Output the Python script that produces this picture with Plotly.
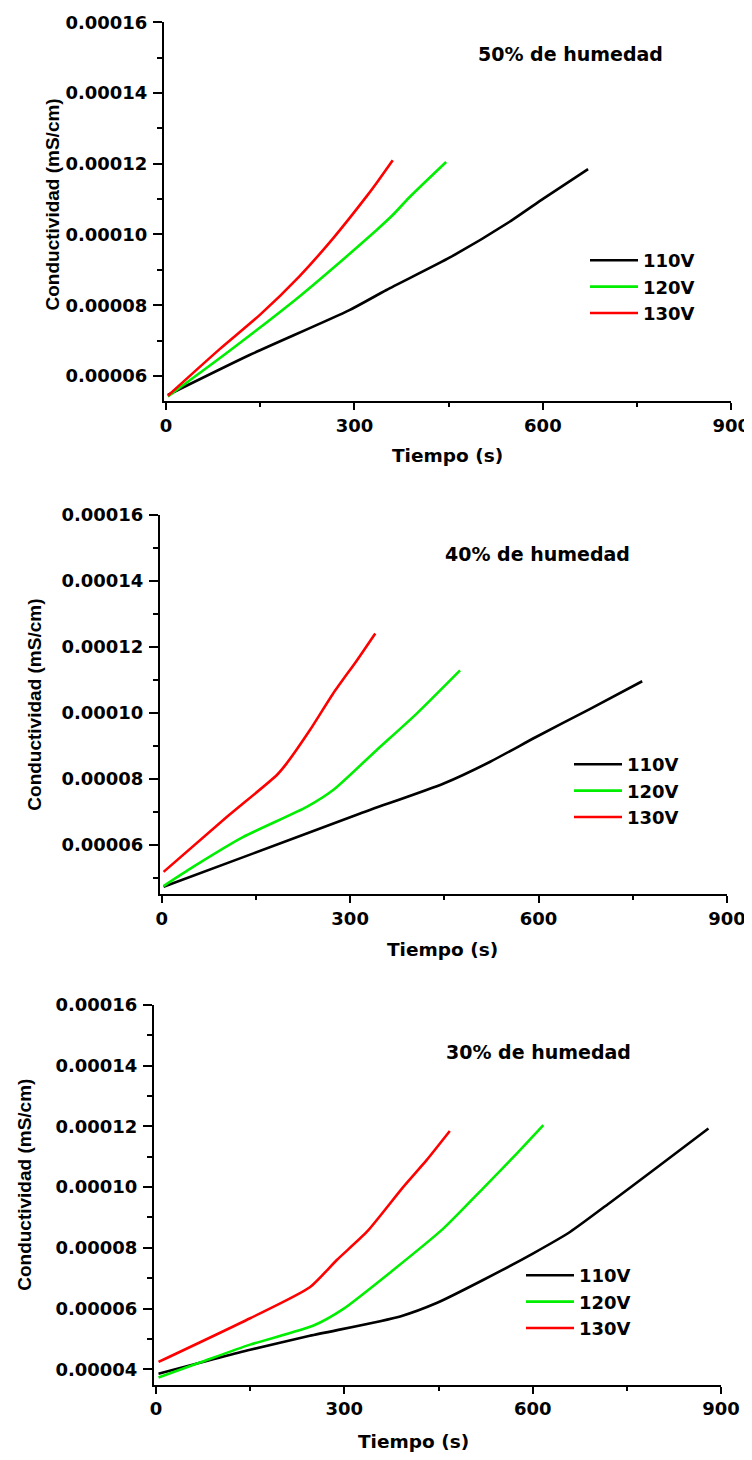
import plotly.graph_objects as go

# ---------------- data (time in s, conductivity in mS/cm) ----------------
# Panel 1: 50% humidity
t50_110 = [3, 133, 292, 351, 452, 547, 602, 672]
c50_110 = [5.46e-5, 6.59e-5, 7.86e-5, 8.43e-5, 9.35e-5, 10.36e-5, 11.03e-5, 11.85e-5]
t50_120 = [3, 96, 212, 287, 335, 361, 388, 446]
c50_120 = [5.42e-5, 6.64e-5, 8.24e-5, 9.37e-5, 10.12e-5, 10.55e-5, 11.06e-5, 12.05e-5]
t50_130 = [3, 85, 149, 212, 266, 319, 335, 361]
c50_130 = [5.44e-5, 6.75e-5, 7.72e-5, 8.81e-5, 9.89e-5, 11.07e-5, 11.45e-5, 12.10e-5]

# Panel 2: 40% humidity
t40_110 = [3, 146, 316, 449, 523, 596, 680, 765]
c40_110 = [4.73e-5, 5.74e-5, 6.95e-5, 7.86e-5, 8.52e-5, 9.27e-5, 10.10e-5, 10.96e-5]
t40_120 = [3, 50, 130, 231, 273, 342, 406, 475]
c40_120 = [4.75e-5, 5.33e-5, 6.24e-5, 7.15e-5, 7.66e-5, 8.87e-5, 9.98e-5, 11.29e-5]
t40_130 = [3, 104, 183, 199, 236, 273, 311, 340]
c40_130 = [5.18e-5, 6.85e-5, 8.11e-5, 8.47e-5, 9.48e-5, 10.59e-5, 11.60e-5, 12.41e-5]

# Panel 3: 30% humidity
t30_110 = [4, 150, 245, 389, 447, 521, 601, 660, 722, 800, 880]
c30_110 = [3.85e-5, 4.64e-5, 5.10e-5, 5.74e-5, 6.18e-5, 6.94e-5, 7.82e-5, 8.53e-5, 9.47e-5, 10.68e-5, 11.93e-5]
t30_120 = [4, 70, 150, 251, 298, 378, 458, 521, 575, 617]
c30_120 = [3.73e-5, 4.22e-5, 4.81e-5, 5.44e-5, 5.98e-5, 7.27e-5, 8.64e-5, 9.96e-5, 11.11e-5, 12.04e-5]
t30_130 = [4, 150, 245, 288, 336, 394, 431, 468]
c30_130 = [4.24e-5, 5.68e-5, 6.70e-5, 7.60e-5, 8.53e-5, 10.01e-5, 10.89e-5, 11.85e-5]

series_names = ["110V", "120V", "130V"]
series_colors = ["#000000", "#00EE00", "#FF0000"]
panel_titles = ["50% de humedad", "40% de humedad", "30% de humedad"]
x_title = "Tiempo (s)"
y_title = "Conductividad (mS/cm)"

x_ticks = [0, 300, 600, 900]
x_minor = [150, 450, 750]
y_ticks = [4e-5, 6e-5, 8e-5, 10e-5, 12e-5, 14e-5, 16e-5]
y_ticktext = ["0.00004", "0.00006", "0.00008", "0.00010", "0.00012", "0.00014", "0.00016"]
y_minor = [3e-5, 5e-5, 7e-5, 9e-5, 11e-5, 13e-5, 15e-5]

panels = [
    [(t50_110, c50_110), (t50_120, c50_120), (t50_130, c50_130)],
    [(t40_110, c40_110), (t40_120, c40_120), (t40_130, c40_130)],
    [(t30_110, c30_110), (t30_120, c30_120), (t30_130, c30_130)],
]
x_ranges = [[-3.2, 900], [-2.7, 900], [-3.2, 900]]
y_ranges = [[5.29e-5, 16.01e-5], [4.50e-5, 16.01e-5], [3.49e-5, 16.01e-5]]

# ---------------- layout geometry (page pixels) ----------------
PAGE_W, PAGE_H = 752, 1460
OFF = 8  # default body margin of the html page
W, H = PAGE_W - OFF, PAGE_H - 2 * OFF
# left, right, top, bottom of each plot area
boxes = [(164, 731.3, 22, 401), (160, 727, 514.7, 894.3), (154, 721, 1004.7, 1384.7)]
title_pos = [(570, 54), (537, 554), (538, 1052)]
xtitle_pos = [(447, 456), (442.5, 949), (413.5, 1441)]
ytitle_pos = [(52.5, 205), (33.7, 705), (23.8, 1185)]
legend_pos = [(585, 242), (569, 746), (521, 1257)]


def fx(px):
    return (px - OFF) / W


def fy(py):
    return 1 - (py - OFF) / H


BOLD = "DejaVu Sans"
fig = go.Figure()

for p, series in enumerate(panels):
    sfx = "" if p == 0 else str(p + 1)
    for s, (tx, cy) in enumerate(series):
        fig.add_trace(go.Scatter(
            x=tx, y=cy, mode="lines", name=series_names[s],
            line=dict(color=series_colors[s], width=2.6, shape="spline", smoothing=0.6),
            xaxis="x" + sfx, yaxis="y" + sfx,
            legend="legend" + sfx,
        ))

    L, R, T, B = boxes[p]
    ax_common = dict(
        showline=True, linecolor="black", linewidth=2, showgrid=False, zeroline=False,
        ticks="outside", tickcolor="black", tickwidth=2, automargin=False,
        tickfont=dict(family=BOLD, size=18, color="black", weight="bold"),
        mirror=False,
    )
    fig.update_layout(**{
        "xaxis" + sfx: dict(
            domain=[fx(L), fx(R)], anchor="y" + sfx, range=x_ranges[p],
            tickmode="array", tickvals=x_ticks, ticklen=7, ticklabelstandoff=0,
            minor=dict(tickmode="array", tickvals=x_minor, ticks="outside",
                       ticklen=4, tickwidth=2, tickcolor="black"),
            **ax_common),
        "yaxis" + sfx: dict(
            domain=[fy(B), fy(T)], anchor="x" + sfx, range=y_ranges[p],
            tickmode="array", tickvals=y_ticks, ticktext=y_ticktext, ticklen=9,
            ticklabelstandoff=2,
            minor=dict(tickmode="array", tickvals=y_minor, ticks="outside",
                       ticklen=5, tickwidth=2, tickcolor="black"),
            **ax_common),
        "legend" + sfx: dict(
            x=fx(legend_pos[p][0]), y=fy(legend_pos[p][1]),
            xanchor="left", yanchor="top", bgcolor="rgba(0,0,0,0)",
            font=dict(family=BOLD, size=18, color="black", weight="bold"),
            itemwidth=48, tracegroupgap=0,
        ),
    })
    fig.add_annotation(text=panel_titles[p], xref="paper", yref="paper",
                       x=fx(title_pos[p][0]), y=fy(title_pos[p][1]),
                       xanchor="center", yanchor="middle", showarrow=False,
                       font=dict(family=BOLD, size=19, color="black", weight="bold"))
    fig.add_annotation(text=x_title, xref="paper", yref="paper",
                       x=fx(xtitle_pos[p][0]), y=fy(xtitle_pos[p][1]),
                       xanchor="center", yanchor="middle", showarrow=False,
                       font=dict(family=BOLD, size=18.5, color="black", weight="bold"))
    fig.add_annotation(text=y_title, xref="paper", yref="paper",
                       x=fx(ytitle_pos[p][0]), y=fy(ytitle_pos[p][1]),
                       xanchor="center", yanchor="middle", showarrow=False, textangle=-90,
                       font=dict(family="Liberation Sans", size=19, color="black", weight="bold"))

fig.update_layout(
    template="none",
    width=W, height=H, margin=dict(l=0, r=0, t=0, b=0, autoexpand=False),
    paper_bgcolor="white", plot_bgcolor="white", showlegend=True,
)

fig.write_html("out.html")
